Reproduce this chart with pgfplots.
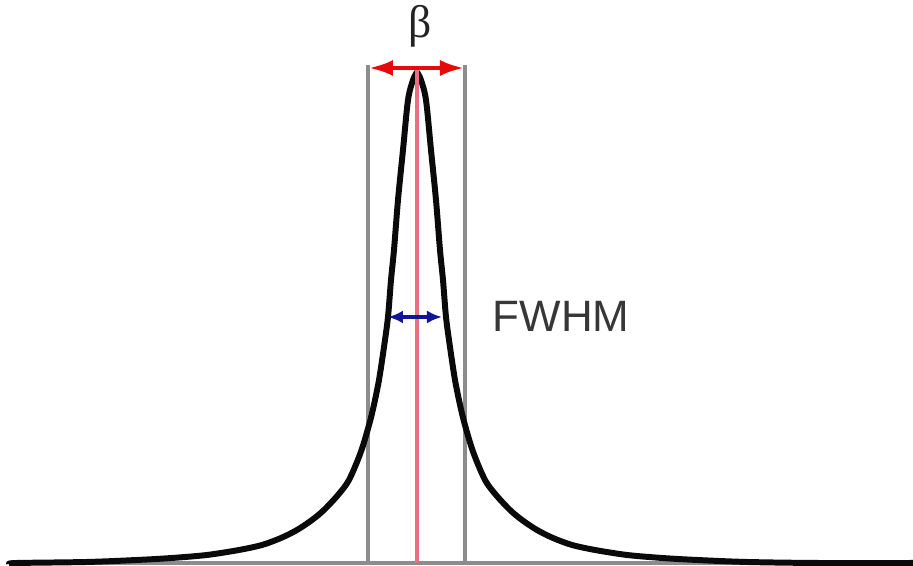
\documentclass[border=0pt]{standalone}
\usepackage{fontspec}
\setmainfont{Liberation Sans}
\newfontfamily\greekserif{Liberation Serif}
\usepackage{pgfplots}
\pgfplotsset{compat=1.18}
\usetikzlibrary{arrows.meta}

\definecolor{peakblack}{RGB}{10,10,10}
\definecolor{guidegray}{RGB}{140,140,140}
\definecolor{centerred}{RGB}{232,112,130}
\definecolor{betared}{RGB}{230,10,10}
\definecolor{fwhmblue}{RGB}{20,20,150}
\definecolor{labelgray}{RGB}{55,55,55}

\begin{document}
\begin{tikzpicture}
\begin{axis}[
  scale only axis,
  width=9.13cm, height=5.66cm,
  xmin=0, xmax=913, ymin=0, ymax=566,
  hide axis,
]
% baseline
\addplot[guidegray, line width=1.1pt] coordinates {(9,3) (913,3)};
% boundaries of the beta interval
\addplot[guidegray, line width=1.1pt] coordinates {(368,3) (368,501)};
\addplot[guidegray, line width=1.1pt] coordinates {(465,3) (465,501)};
% Lorentzian-type peak profile, left and right flanks
\addplot[peakblack, line width=1.7pt, line join=round, smooth, tension=0.5] coordinates {
  (9,2) (17,3) (87,4) (137,6) (172,8) (207,11) (239,16) (262,21)
  (281,28) (297,36) (312,46) (324,56) (338,71) (349,86) (360.5,113)
  (368.5,139) (373.5,159) (379,186) (384,219) (388,249) (391,286)
  (394,316) (398,366) (403,416) (408,466) (413,486) (417,494)
};
\addplot[peakblack, line width=1.7pt, line join=round, smooth, tension=0.5] coordinates {
  (417,494) (421,486) (426,466) (431,416) (436,366) (440,316) (443,286)
  (446,249) (450,219) (455,186) (460.5,159) (465.5,139) (473.5,113)
  (485,86) (496,71) (510,56) (522,46) (537,36) (553,28) (572,21)
  (595,16) (627,11) (662,8) (697,6) (747,4) (817,3) (913,3)
};
% peak centre
\addplot[centerred, line width=1.0pt] coordinates {(417,3) (417,497)};
% beta arrow
\addplot[betared, line width=1.4pt,
  {Latex[length=2.5mm,width=1.6mm]}-{Latex[length=2.5mm,width=1.6mm]}]
  coordinates {(368,498) (465,498)};
% FWHM arrow
\addplot[fwhmblue, line width=1.0pt,
  {Latex[length=1.5mm,width=1.3mm]}-{Latex[length=1.5mm,width=1.3mm]}]
  coordinates {(388,249) (442,249)};
\node[font=\greekserif\fontsize{13}{15}\selectfont, text={rgb,255:red,35;green,35;blue,35}]
  at (axis cs:420,540) {β};
\node[font=\fontsize{12.5}{15}\selectfont, text=labelgray]
  at (axis cs:561,250) {FWHM};
\end{axis}
\pgfresetboundingbox
\path (current axis.south west) rectangle (current axis.north east);
\end{tikzpicture}
\end{document}
